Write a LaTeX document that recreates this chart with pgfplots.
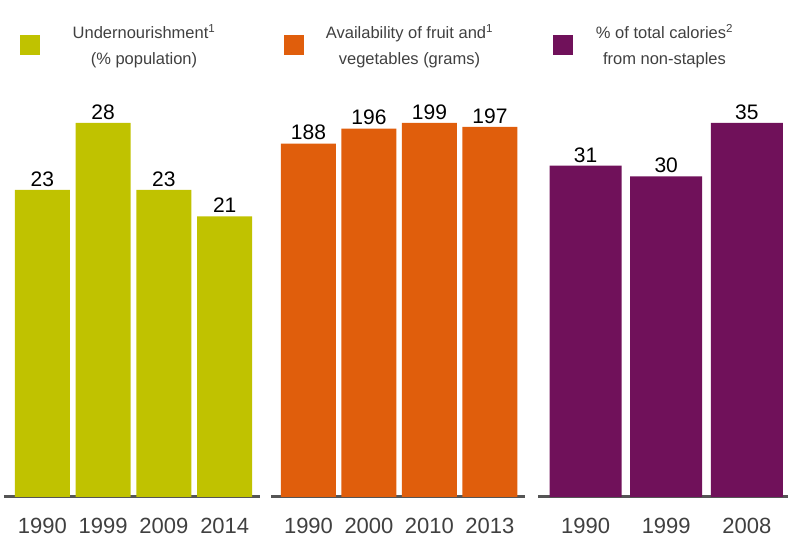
\documentclass[border=0pt]{standalone}
\usepackage{pgfplots}
\pgfplotsset{compat=1.18}
\usepackage{fontspec}
\setmainfont{Liberation Sans}
\definecolor{olv}{RGB}{192,194,0}
\definecolor{org}{RGB}{224,94,12}
\definecolor{prp}{RGB}{112,17,90}
\definecolor{txt}{RGB}{64,64,64}
\definecolor{axl}{RGB}{85,85,85}
\pgfplotsset{panel/.style={
  scale only axis, height=374pt, ymin=0, clip=false,
  anchor=south west,
  axis x line=bottom, hide y axis,
  x axis line style={-, line width=3pt, draw=axl},
  ybar, xtick=data, major tick length=0pt,
  xticklabel style={font=\fontsize{22}{26}\selectfont, text=txt, yshift=-18pt},
  nodes near coords,
  nodes near coords style={font=\fontsize{21}{25}\selectfont, text=black, anchor=south, yshift=0pt},
  /pgf/number format/assume math mode=true,
}}
\begin{document}
\begin{tikzpicture}
\useasboundingbox (0pt,0pt) rectangle (788pt,540pt);
% Panel 1
\begin{axis}[panel, at={(4pt,43pt)}, width=256pt, xmin=-0.63, xmax=3.58, ymax=28,
  bar width=55pt, xticklabels={1990,1999,2009,2014}]
\addplot[fill=olv, draw=none] coordinates {(0,23) (1,28) (2,23) (3,21)};
\end{axis}
% Panel 2
\begin{axis}[panel, at={(271pt,43pt)}, width=254pt, xmin=-0.62, xmax=3.58, ymax=199,
  bar width=55pt, xticklabels={1990,2000,2010,2013}]
\addplot[fill=org, draw=none] coordinates {(0,188) (1,196) (2,199) (3,197)};
\end{axis}
% Panel 3
\begin{axis}[panel, at={(538pt,43pt)}, width=250pt, xmin=-0.59, xmax=2.51, ymax=35,
  bar width=72pt, xticklabels={1990,1999,2008}]
\addplot[fill=prp, draw=none] coordinates {(0,31) (1,30) (2,35)};
\end{axis}
% Legend
\begin{scope}[every node/.style={font=\fontsize{16.5}{26}\selectfont, text=txt, align=center}]
\fill[olv] (19.5pt,485pt) rectangle (39.5pt,505pt);
\node at (144pt,494pt) {Undernourishment\textsuperscript{1}\\(\% population)};
\fill[org] (283.5pt,485pt) rectangle (303.5pt,505pt);
\node at (409.5pt,494pt) {Availability of fruit and\textsuperscript{1}\\vegetables (grams)};
\fill[prp] (553pt,485pt) rectangle (573pt,505pt);
\node at (664.5pt,494pt) {\% of total calories\textsuperscript{2}\\from non-staples};
\end{scope}
\end{tikzpicture}
\end{document}
